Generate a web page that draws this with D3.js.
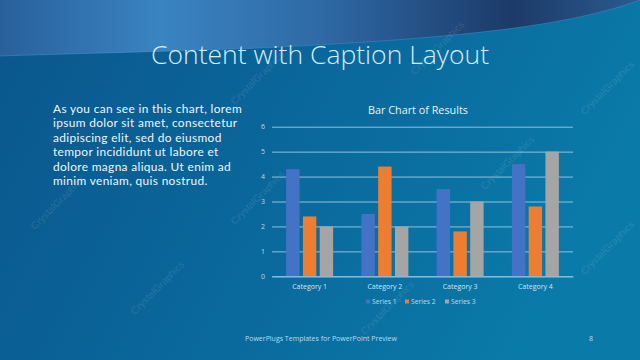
<!DOCTYPE html>
<html><head><meta charset="utf-8">
<script src="https://cdn.jsdelivr.net/npm/d3@7"></script>
<style>html,body{margin:0;padding:0;overflow:hidden;background:#0b5a8e}</style>
</head><body>
<script>
const categories = ["Category 1","Category 2","Category 3","Category 4"];
const seriesNames = ["Series 1","Series 2","Series 3"];
const series1 = [4.3, 2.5, 3.5, 4.5];
const series2 = [2.4, 4.4, 1.8, 2.8];
const series3 = [2, 2, 3, 5];
const yTicks = [0,1,2,3,4,5,6];
const colors = ["#4472C4","#ED7D31","#A5A5A5"];
const bodyLines = ["As you can see in this chart, lorem","ipsum dolor sit amet, consectetur","adipiscing elit, sed do eiusmod","tempor incididunt ut labore et","dolore magna aliqua. Ut enim ad","minim veniam, quis nostrud."];

const W=640,H=360;
const svg=d3.select("body").append("svg").attr("width",W).attr("height",H);
const defs=svg.append("defs");
const bg=defs.append("linearGradient").attr("id","bg").attr("x1","0").attr("y1","0").attr("x2","1").attr("y2","0.3");
bg.append("stop").attr("offset","0").attr("stop-color","#0a568c");
bg.append("stop").attr("offset","0.6").attr("stop-color","#0a6a9e");
bg.append("stop").attr("offset","1").attr("stop-color","#0a7aa8");
const topGrad=defs.append("linearGradient").attr("id","topg").attr("x1","0").attr("y1","0").attr("x2","1").attr("y2","0");
topGrad.append("stop").attr("offset","0").attr("stop-color","#28609c");
topGrad.append("stop").attr("offset","0.25").attr("stop-color","#3a84c2");
topGrad.append("stop").attr("offset","0.5").attr("stop-color","#2e6aa6");
topGrad.append("stop").attr("offset","0.8").attr("stop-color","#1c3a68");
topGrad.append("stop").attr("offset","1").attr("stop-color","#2a5c90");

svg.append("rect").attr("width",W).attr("height",H).attr("fill","url(#bg)");
svg.append("path").attr("d","M0,0 L640,0 L640,0 C560,30 420,40 260,48 C150,52 60,54 0,56 Z").attr("fill","url(#topg)");
svg.append("path").attr("d","M640,0 C560,30 420,40 260,48 C150,52 60,54 0,56").attr("fill","none").attr("stroke","#5f9fd0").attr("stroke-opacity",0.35).attr("stroke-width",1);

// watermarks
const wm=[[60,205],[260,200],[510,165],[610,90],[390,310],[160,290],[440,50],[260,80],[610,250]];
svg.selectAll("text.wm").data(wm).enter().append("text").attr("class","wm")
 .attr("transform",d=>`translate(${d[0]},${d[1]}) rotate(-45)`)
 .attr("text-anchor","middle").attr("font-family","Liberation Sans, sans-serif").attr("font-size",10)
 .attr("fill","#ffffff").attr("fill-opacity",0.12).text("CrystalGraphics");

svg.append("text").attr("x",320).attr("y",64).attr("text-anchor","middle")
 .attr("font-family","Open Sans, sans-serif").attr("font-weight",300).attr("font-size",26.5)
 .attr("fill","#d6ecf8").text("Content with Caption Layout");

const bodyG=svg.append("g");
const bodyTexts=bodyG.selectAll("text").data(bodyLines).enter().append("text")
 .attr("x",53).attr("y",(d,i)=>113+i*14.4)
 .attr("font-family","Lato, sans-serif").attr("font-size",11.9).attr("fill","#eef6fb").text(d=>d);
const w0=bodyTexts.node().getComputedTextLength();
const ls=(189-w0)/bodyLines[0].length;
bodyTexts.attr("letter-spacing",ls>0?ls:0);

// chart
const x0=d3.scaleBand().domain(categories).range([272,573]).padding(0);
const x1=d3.scaleBand().domain(seriesNames).range([-23.5,23.5]).paddingInner(0.2);
const y=d3.scaleLinear().domain([0,6]).range([276.3,126.7]);
const data=[series1,series2,series3];

svg.append("text").attr("x",418).attr("y",114).attr("text-anchor","middle")
 .attr("font-family","Open Sans, sans-serif").attr("font-size",10.8).attr("fill","#e6f3fb").text("Bar Chart of Results");

const ya=svg.append("g").attr("transform","translate(272,0)")
 .call(d3.axisLeft(y).tickValues(yTicks).tickSize(-301).tickPadding(7).tickFormat(d3.format("d")));
ya.select(".domain").remove();
ya.selectAll("line").attr("stroke","#8cc3e0").attr("stroke-width",1);
ya.selectAll("text").attr("font-family","Open Sans, sans-serif").attr("font-size",7).attr("fill","#b8dcf0");

const g=svg.append("g");
categories.forEach((c,ci)=>{
  seriesNames.forEach((s,si)=>{
    const v=data[si][ci];
    g.append("rect").attr("x",x0(c)+x0.bandwidth()/2+x1(s)).attr("width",x1.bandwidth())
     .attr("y",y(v)).attr("height",y(0)-y(v)).attr("fill",colors[si]);
  });
});

const xa=svg.append("g").attr("transform","translate(0,276.3)").call(d3.axisBottom(x0).tickSize(0).tickPadding(8));
xa.select(".domain").attr("stroke","#8cc3e0");
xa.selectAll("text").attr("font-family","Open Sans, sans-serif").attr("font-size",7).attr("fill","#cfe6f5");

const lx=[366,405,445];
const lg=svg.append("g");
seriesNames.forEach((s,i)=>{
  lg.append("rect").attr("x",lx[i]).attr("y",299.5).attr("width",4).attr("height",4).attr("fill",colors[i]);
  lg.append("text").attr("x",lx[i]+6).attr("y",304).attr("font-family","Open Sans, sans-serif").attr("font-size",6.8).attr("fill","#b8dcf0").text(s);
});

svg.append("text").attr("x",245).attr("y",341).attr("font-family","Open Sans, sans-serif").attr("font-size",7).attr("fill","#b8dcf0").text("PowerPlugs Templates for PowerPoint  Preview");
svg.append("text").attr("x",589).attr("y",341).attr("font-family","Open Sans, sans-serif").attr("font-size",7).attr("fill","#b8dcf0").text("8");
</script>
</body></html>
